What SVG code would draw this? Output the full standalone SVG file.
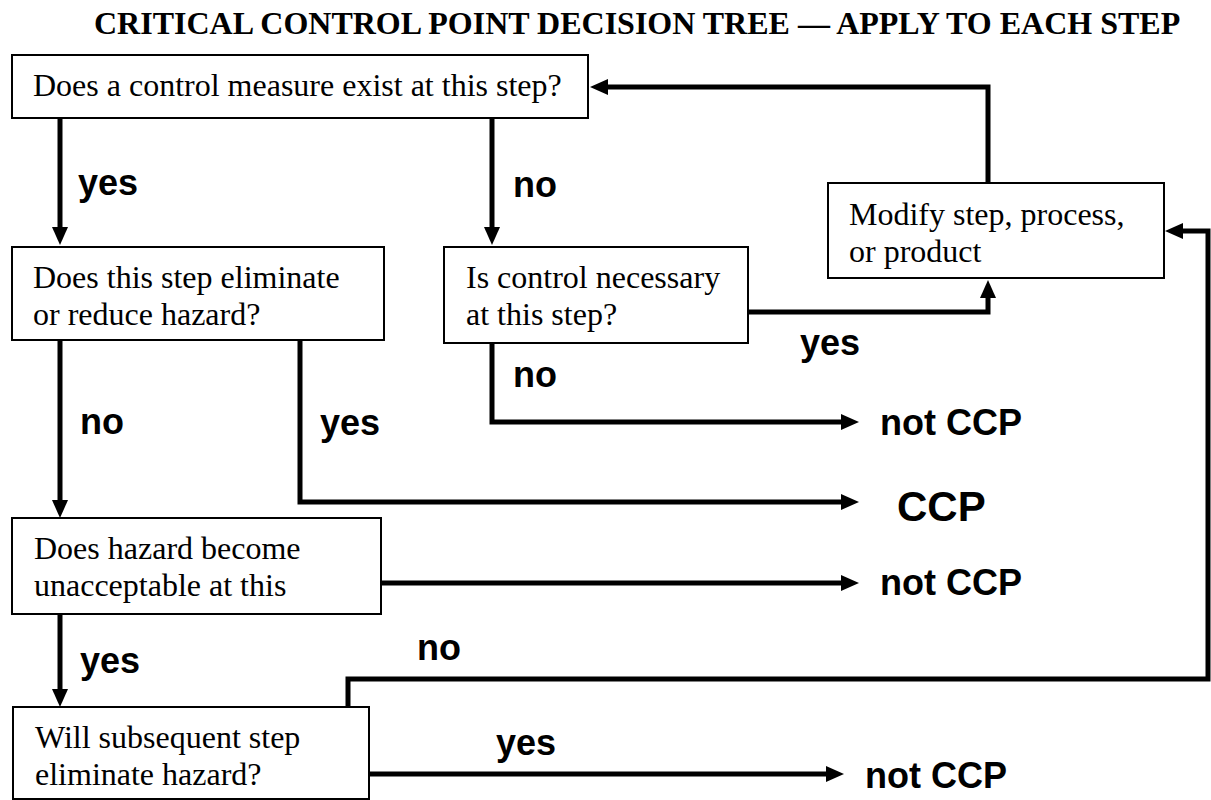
<svg xmlns="http://www.w3.org/2000/svg" width="1211" height="800" viewBox="0 0 1211 800">
<style>
.bg{fill:#fff}
.box{fill:#fff;stroke:#000;stroke-width:2}
.q{font-family:"Liberation Serif","Times New Roman",serif;font-size:32px;fill:#000}
.title{font-family:"Liberation Serif","Times New Roman",serif;font-size:32px;font-weight:bold;fill:#000}
.lbl{font-family:"Liberation Sans",Arial,sans-serif;font-size:36px;font-weight:bold;fill:#000}
.ccp{font-size:42px}
.c{fill:none;stroke:#000;stroke-width:5;marker-end:url(#ah)}
</style>
<defs>
<marker id="ah" markerUnits="userSpaceOnUse" markerWidth="18" markerHeight="16" refX="0" refY="8" orient="auto" viewBox="0 0 18 16" overflow="visible">
<path d="M-1,0 L17,8 L-1,16 Z" fill="#000"/>
</marker>
</defs>
<rect class="bg" x="0" y="0" width="1211" height="800"/>
<text class="title" x="94" y="34">CRITICAL CONTROL POINT DECISION TREE — APPLY TO EACH STEP</text>

<g id="connectors">
<path class="c" d="M60,118 V228"/>
<path class="c" d="M492,118 V228"/>
<path class="c" d="M988,183 V87 H607"/>
<path class="c" d="M748,312 H988 V297"/>
<path class="c" d="M492,343 V422 H842"/>
<path class="c" d="M300,340 V502 H842"/>
<path class="c" d="M381,583 H842"/>
<path class="c" d="M348,707 V679 H1208 V231 H1182"/>
<path class="c" d="M365,774 H827"/>
<path class="c" d="M60,340 V501"/>
<path class="c" d="M60,614 V690"/>
<text class="lbl" x="78" y="195">yes</text>
<text class="lbl" x="513" y="197">no</text>
<text class="lbl" x="800" y="355">yes</text>
<text class="lbl" x="513" y="387">no</text>
<text class="lbl" x="80" y="434">no</text>
<text class="lbl" x="320" y="435">yes</text>
<text class="lbl" x="80" y="673">yes</text>
<text class="lbl" x="417" y="660">no</text>
<text class="lbl" x="496" y="755">yes</text>
</g>

<g id="q1">
<rect class="box" x="12" y="55" width="576" height="63"/>
<text class="q" x="33" y="96">Does a control measure exist at this step?</text>
</g>
<g id="q2">
<rect class="box" x="12" y="247" width="372" height="93"/>
<text class="q" x="33" y="288">Does this step eliminate</text>
<text class="q" x="33" y="325">or reduce hazard?</text>
</g>
<g id="q2a">
<rect class="box" x="444" y="247" width="304" height="96"/>
<text class="q" x="466" y="288">Is control necessary</text>
<text class="q" x="466" y="325">at this step?</text>
</g>
<g id="modify">
<rect class="box" x="828" y="183" width="336" height="95"/>
<text class="q" x="849" y="225">Modify step, process,</text>
<text class="q" x="849" y="262">or product</text>
</g>
<g id="q3">
<rect class="box" x="12" y="518" width="369" height="96"/>
<text class="q" x="34" y="559">Does hazard become</text>
<text class="q" x="34" y="596">unacceptable at this</text>
</g>
<g id="q4">
<rect class="box" x="13" y="707" width="356" height="92"/>
<text class="q" x="35" y="748">Will subsequent step</text>
<text class="q" x="35" y="785">eliminate hazard?</text>
</g>
<g id="out1"><text class="lbl" x="880" y="435">not CCP</text></g>
<g id="out2"><text class="lbl ccp" x="897" y="521">CCP</text></g>
<g id="out3"><text class="lbl" x="880" y="595">not CCP</text></g>
<g id="out4"><text class="lbl" x="865" y="788">not CCP</text></g>
</svg>
